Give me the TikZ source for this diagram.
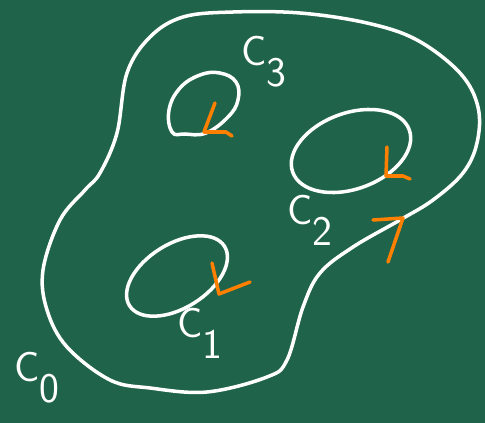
\documentclass[tikz,border=0pt]{standalone}
\definecolor{boardgreen}{RGB}{31,99,74}
\definecolor{chalkorange}{RGB}{255,128,0}
\usepackage{tikz}
\newcommand{\clabel}[1]{C\raisebox{-0.5em}{#1}}

\begin{document}
\begin{tikzpicture}[x=0.02cm, y=-0.02cm,
    chalk/.style={white, line width=2pt, line cap=round, line join=round},
    tick/.style={chalkorange, line width=2pt, line cap=round, line join=round},
    lbl/.style={white, font=\sffamily\fontsize{24}{28}\selectfont, inner sep=0pt}]
    \fill[boardgreen] (0,0) rectangle (485,423);
    \useasboundingbox (0,0) rectangle (485,423);
    % outer boundary
    \draw[chalk] plot[smooth cycle, tension=0.6] coordinates {
      (233,12) (300,13) (367,23) (417,40) (460,73) (478,107) (477,143)
      (463,173) (433,200) (400,220) (353,247) (320,273) (303,307)
      (287,360) (267,377) (207,392) (150,388) (110,380) (67,347)
      (47,310) (43,270) (60,220) (85,190) (100,173) (117,133)
      (127,73) (150,37) (183,17)};
    % holes
    \draw[chalk] plot[smooth cycle, tension=0.7] coordinates {
      (172,132) (169,110) (180,88) (200,75) (220,73) (236,82)
      (238,100) (228,117) (206,133) (185,134)};
    \draw[chalk] (351,151) ellipse [x radius=62, y radius=38, rotate=20];
    \draw[chalk] (177,276) ellipse [x radius=56, y radius=32, rotate=32];
    % orientation marks
    \draw[tick] (373,220) -- (403,218) -- (388,262);
    \draw[tick] (215,103) -- (204,132) -- (226,132) -- (232,136);
    \draw[tick] (387,147) -- (386,176) -- (403,176) -- (410,179);
    \draw[tick] (212,263) -- (219,294) -- (250,282);
    % labels
    \node[lbl] (c0) at (37,378) {\clabel{0}};
    \node[lbl] (c1) at (200,333) {\clabel{1}};
    \node[lbl] (c2) at (310,220) {\clabel{2}};
    \node[lbl] (c3) at (264,62) {\clabel{3}};
\end{tikzpicture}
\end{document}
